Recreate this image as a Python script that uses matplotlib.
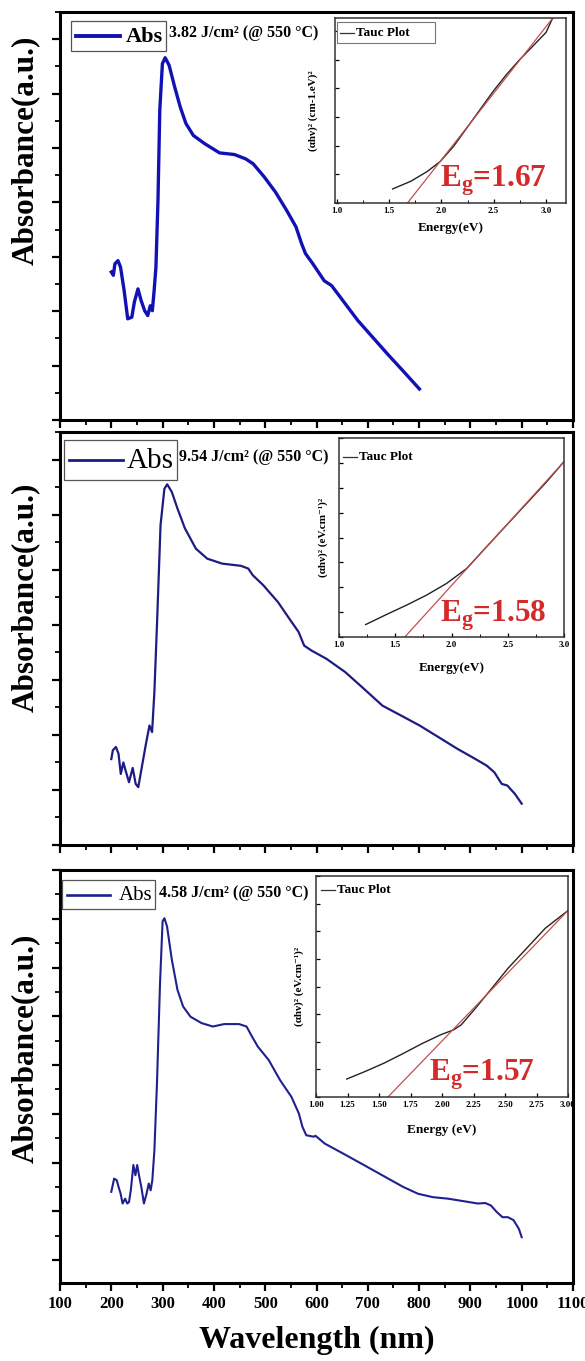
import matplotlib
matplotlib.use("Agg")
import matplotlib.pyplot as plt
from matplotlib.ticker import MultipleLocator, NullFormatter

plt.rcParams['font.family'] = ['Liberation Serif', 'DejaVu Serif']
plt.rcParams['mathtext.fontset'] = 'custom'
plt.rcParams['mathtext.rm'] = 'Liberation Serif'
plt.rcParams['mathtext.bf'] = 'Liberation Serif:bold'
plt.rcParams['mathtext.it'] = 'Liberation Serif:italic'

# ---------------- data ----------------
# Panel 1 : 3.82 J/cm2
wl1 = [200, 204, 207, 213, 218, 225, 232, 240, 245, 252, 258, 265, 271, 276, 280, 283.5,
       287, 291, 294.5, 299.6, 305, 312.7, 323.6, 334.5, 345.5, 360, 382, 411, 440, 462,
       476.5, 498, 520, 542, 560, 571, 578.5, 593, 615, 629.5, 651, 680.5, 709.6, 738.7,
       768, 800.6]
ab1 = [2.72, 2.66, 2.87, 2.93, 2.81, 2.38, 1.86, 1.89, 2.17, 2.41, 2.20, 2.01, 1.92, 2.10,
       2.01, 2.38, 2.81, 4.04, 5.69, 6.55, 6.66, 6.52, 6.12, 5.75, 5.45, 5.23, 5.08, 4.91,
       4.88, 4.80, 4.71, 4.47, 4.19, 3.85, 3.55, 3.24, 3.06, 2.87, 2.56, 2.47, 2.20, 1.83,
       1.52, 1.21, 0.91, 0.57]

# Panel 2 : 9.54 J/cm2
wl2 = [200, 203, 209, 214, 218.5, 223.5, 227, 234.5, 241.7, 247.5, 252.6, 260, 267, 274.4,
       279.5, 284, 289, 296, 303.5, 309, 318, 329, 343.5, 365, 387, 416, 452.5, 467, 475.7,
       496, 525, 547, 565, 576, 590.5, 619.6, 656, 692, 728.6, 765, 801, 837.6, 874, 910,
       932, 946.7, 961, 972, 986.6, 1000]
ab2 = [1.56, 1.72, 1.78, 1.66, 1.29, 1.50, 1.38, 1.14, 1.40, 1.11, 1.05, 1.44, 1.81, 2.17,
       2.05, 2.78, 3.99, 5.81, 6.47, 6.55, 6.41, 6.11, 5.75, 5.38, 5.20, 5.11, 5.07, 5.02,
       4.90, 4.72, 4.41, 4.11, 3.87, 3.62, 3.53, 3.38, 3.14, 2.84, 2.53, 2.35, 2.17, 1.96,
       1.75, 1.56, 1.44, 1.32, 1.11, 1.08, 0.93, 0.75]

# Panel 3 : 4.58 J/cm2
wl3 = [200, 205.5, 210.5, 215, 218, 222, 227, 231, 234.5, 238, 243, 247, 250.5, 254, 258.5,
       263.6, 268.7, 273, 276.7, 280, 284, 289, 295, 300, 303.6, 308.7, 318, 329, 340,
       354.5, 376, 398, 420, 449, 463.6, 474.5, 485.5, 507, 529, 551, 565.5, 572.7, 580,
       594.5, 598, 616, 652.7, 682, 711, 740, 769, 798, 827, 856, 885.5, 914.5, 929, 940,
       951, 962.5, 973, 984, 994.5, 1000]
ab3 = [1.40, 1.67, 1.64, 1.47, 1.37, 1.16, 1.26, 1.16, 1.19, 1.43, 1.95, 1.74, 1.95, 1.74,
       1.50, 1.16, 1.36, 1.57, 1.43, 1.64, 2.25, 3.62, 5.68, 6.95, 7.01, 6.84, 6.16, 5.54,
       5.20, 4.99, 4.86, 4.79, 4.84, 4.84, 4.79, 4.58, 4.38, 4.10, 3.69, 3.35, 3.01, 2.73,
       2.56, 2.53, 2.55, 2.39, 2.18, 2.01, 1.84, 1.67, 1.50, 1.36, 1.29, 1.26, 1.21, 1.16,
       1.17, 1.12, 0.99, 0.88, 0.88, 0.82, 0.64, 0.47]

# Tauc plots (energy eV, (alpha h nu)^2 a.u.)
e1 = [1.535, 1.71, 1.866, 1.99, 2.118, 2.244, 2.37, 2.496, 2.622, 2.748, 2.874, 3.0, 3.063]
t1 = [0.49, 0.76, 1.10, 1.45, 1.98, 2.62, 3.26, 3.90, 4.48, 5.00, 5.47, 5.95, 6.45]
fit1_e = [1.677, 3.075]
fit1_t = [0.0, 6.50]

e2 = [1.237, 1.42, 1.60, 1.777, 1.955, 2.134, 2.31, 2.49, 2.668, 2.846, 3.0]
t2 = [0.50, 0.90, 1.28, 1.68, 2.15, 2.75, 3.62, 4.50, 5.37, 6.24, 7.05]
fit2_e = [1.585, 3.0]
fit2_t = [0.0, 7.05]

e3 = [1.244, 1.393, 1.542, 1.69, 1.84, 1.988, 2.092, 2.152, 2.256, 2.375, 2.524, 2.673, 2.82, 3.0]
t3 = [0.65, 0.93, 1.23, 1.57, 1.93, 2.25, 2.43, 2.61, 3.16, 3.82, 4.66, 5.39, 6.11, 6.75]
fit3_e = [1.571, 3.0]
fit3_t = [0.0, 6.75]

fluences = ["3.82 J/cm² (@ 550 °C)", "9.54 J/cm² (@ 550 °C)", "4.58 J/cm² (@ 550 °C)"]
eg_vals = ["1.67", "1.58", "1.57"]
inset_ylabels = ["(αhν)² (cm-1.eV)²", "(αhν)² (eV.cm⁻¹)²", "(αhν)² (eV.cm⁻¹)²"]
inset_xlabels = ["Energy(eV)", "Energy(eV)", "Energy (eV)"]
xticks_main = [100, 200, 300, 400, 500, 600, 700, 800, 900, 1000, 1100]

# ---------------- figure ----------------
W, H = 585, 1361
fig = plt.figure(figsize=(W / 100, H / 100), dpi=100)

def box(x0, y0, x1, y1):
    return [x0 / W, 1 - y1 / H, (x1 - x0) / W, (y1 - y0) / H]

def fxy(x, y):
    return x / W, 1 - y / H

main_boxes = [box(60, 12, 573, 420), box(60, 432, 573, 845), box(60, 870, 573, 1283)]
inset_boxes = [box(335, 18, 566, 203), box(339, 438, 564, 637), box(316, 876, 568, 1097)]
ylims = [(0, 7.5), (0, 7.5), (-0.47, 8.0)]
inset_xlims = [(0.985, 3.19), (1.0, 3.0), (1.0, 3.0)]
inset_ylims = [(0, 6.45), (0, 8.0), (0, 8.0)]
colors = ['#1212b4', '#1c1c82', '#20208e']
lws = [2.4, 1.6, 1.5]
wls = [wl1, wl2, wl3]
abs_ = [ab1, ab2, ab3]
es = [e1, e2, e3]
ts = [t1, t2, t3]
fes = [fit1_e, fit2_e, fit3_e]
fts = [fit1_t, fit2_t, fit3_t]

leg_boxes = [(71, 21, 166, 51), (64, 440, 177, 480), (62, 880, 155, 909)]
abs_styles = [dict(size=16, weight='bold'), dict(size=21, weight='normal'), dict(size=15, weight='normal')]
fluence_pos = [(169, 33), (179, 457), (159, 893)]
eg_pos = [(440, 181), (440, 616), (429, 1075)]
tauc_leg = [(337, 22, 435, 43), (340, 447, 440, 467), (318, 880, 410, 900)]
ylab_pos = [(25, 150), (25, 597), (25, 1048)]
inset_ylab_x = [313, 323, 299]
inset_xlab_y = [228, 668, 1130]

for i in range(3):
    ax = fig.add_axes(main_boxes[i])
    ax.plot(wls[i], abs_[i], color=colors[i], lw=lws[i])
    ax.set_xlim(100, 1100)
    ax.set_ylim(*ylims[i])
    ax.xaxis.set_major_locator(MultipleLocator(100))
    ax.xaxis.set_minor_locator(MultipleLocator(50))
    ax.yaxis.set_major_locator(MultipleLocator(1))
    ax.yaxis.set_minor_locator(MultipleLocator(0.5))
    ax.tick_params(axis='both', which='major', direction='out', length=6, width=1.6)
    ax.tick_params(axis='both', which='minor', direction='out', length=3.5, width=1.3)
    ax.set_yticklabels([])
    for s in ax.spines.values():
        s.set_linewidth(2.2)
    if i < 2:
        ax.set_xticklabels([])
    else:
        ax.set_xticks(xticks_main)
        ax.set_xticklabels([str(v) for v in xticks_main], fontsize=12, fontweight='bold')
        ax.set_xlabel("Wavelength (nm)", fontsize=23, fontweight='bold', labelpad=10)

    # legend-like box with line and "Abs"
    x0, y0, x1, y1 = leg_boxes[i]
    fx0, fy1 = fxy(x0, y1)
    fx1, fy0 = fxy(x1, y0)
    fig.patches.append(plt.Rectangle((fx0, fy1), fx1 - fx0, fy0 - fy1, transform=fig.transFigure,
                                     fill=True, facecolor='white', edgecolor='#555555', lw=0.9, zorder=5))
    ym = (y0 + y1) / 2
    lx0, _ = fxy(x0 + 5, ym)
    lx1, lyy = fxy(x0 + 0.52 * (x1 - x0), ym)
    fig.add_artist(plt.Line2D([lx0, lx1], [lyy, lyy], transform=fig.transFigure,
                              color=colors[i], lw=lws[i] + 0.4, zorder=6))
    tx, ty = fxy(x1 - 3, ym + 1)
    fig.text(tx, ty, "Abs", ha='right', va='center', zorder=7, **abs_styles[i])

    # fluence annotation
    fx, fy = fxy(*fluence_pos[i])
    fig.text(fx, fy, fluences[i], ha='left', va='center', fontsize=11.5, fontweight='bold')

    # y label
    yx, yy = fxy(*ylab_pos[i])
    fig.text(yx, yy, "Absorbance(a.u.)", rotation=90, ha='center', va='center',
             fontsize=22.5, fontweight='bold')

    # inset
    ia = fig.add_axes(inset_boxes[i])
    ia.plot(es[i], ts[i], color='#222222', lw=1.0)
    ia.plot(fes[i], fts[i], color='#c0504d', lw=0.9)
    ia.set_xlim(*inset_xlims[i])
    ia.set_ylim(*inset_ylims[i])
    if i < 2:
        ia.xaxis.set_major_locator(MultipleLocator(0.5))
        ia.xaxis.set_minor_locator(MultipleLocator(0.25))
        ia.xaxis.set_major_formatter(plt.FuncFormatter(lambda v, p: f"{v:.1f}"))
    else:
        ia.xaxis.set_major_locator(MultipleLocator(0.25))
        ia.xaxis.set_major_formatter(plt.FuncFormatter(lambda v, p: f"{v:.2f}"))
    ia.yaxis.set_major_locator(MultipleLocator(1))
    ia.yaxis.set_major_formatter(NullFormatter())
    ia.tick_params(axis='both', which='major', direction='in', length=3, width=0.9, labelsize=6.5, pad=3)
    ia.tick_params(axis='both', which='minor', direction='in', length=2, width=0.7)
    for lab in ia.get_xticklabels():
        lab.set_fontweight('bold')
    for s in ia.spines.values():
        s.set_linewidth(1.1)
        s.set_color('#333333')
    # inset labels
    fig.text(inset_ylab_x[i] / W, inset_boxes[i][1] + inset_boxes[i][3] / 2, inset_ylabels[i],
             rotation=90, ha='center', va='center', fontsize=8, fontweight='bold')
    xl_x = inset_boxes[i][0] + inset_boxes[i][2] / 2
    fig.text(xl_x, 1 - inset_xlab_y[i] / H, inset_xlabels[i], ha='center', va='center',
             fontsize=9.5, fontweight='bold')
    # Eg
    gx, gy = fxy(*eg_pos[i])
    fig.text(gx, gy, r"E$_{\mathbf{g}}$=" + eg_vals[i], ha='left', va='center', fontsize=22.5,
             fontweight='bold', color='#d42a2a', zorder=8)
    # Tauc legend
    a0, b0, a1, b1 = tauc_leg[i]
    bm = (b0 + b1) / 2
    if i == 0:
        p0x, p1y = fxy(a0, b1)
        p1x, p0y = fxy(a1, b0)
        fig.patches.append(plt.Rectangle((p0x, p1y), p1x - p0x, p0y - p1y, transform=fig.transFigure,
                                         fill=True, facecolor='white', edgecolor='#777777', lw=0.8, zorder=5))
    q0, qy = fxy(a0 + 3, bm)
    q1, _ = fxy(a0 + 17, bm)
    fig.add_artist(plt.Line2D([q0, q1], [qy, qy], transform=fig.transFigure, color='#333333', lw=0.9, zorder=6))
    tx, ty = fxy(a0 + 19, bm)
    fig.text(tx, ty, "Tauc Plot", ha='left', va='center', fontsize=9.5, fontweight='bold', zorder=7)

fig.savefig("out.png", dpi=100)
